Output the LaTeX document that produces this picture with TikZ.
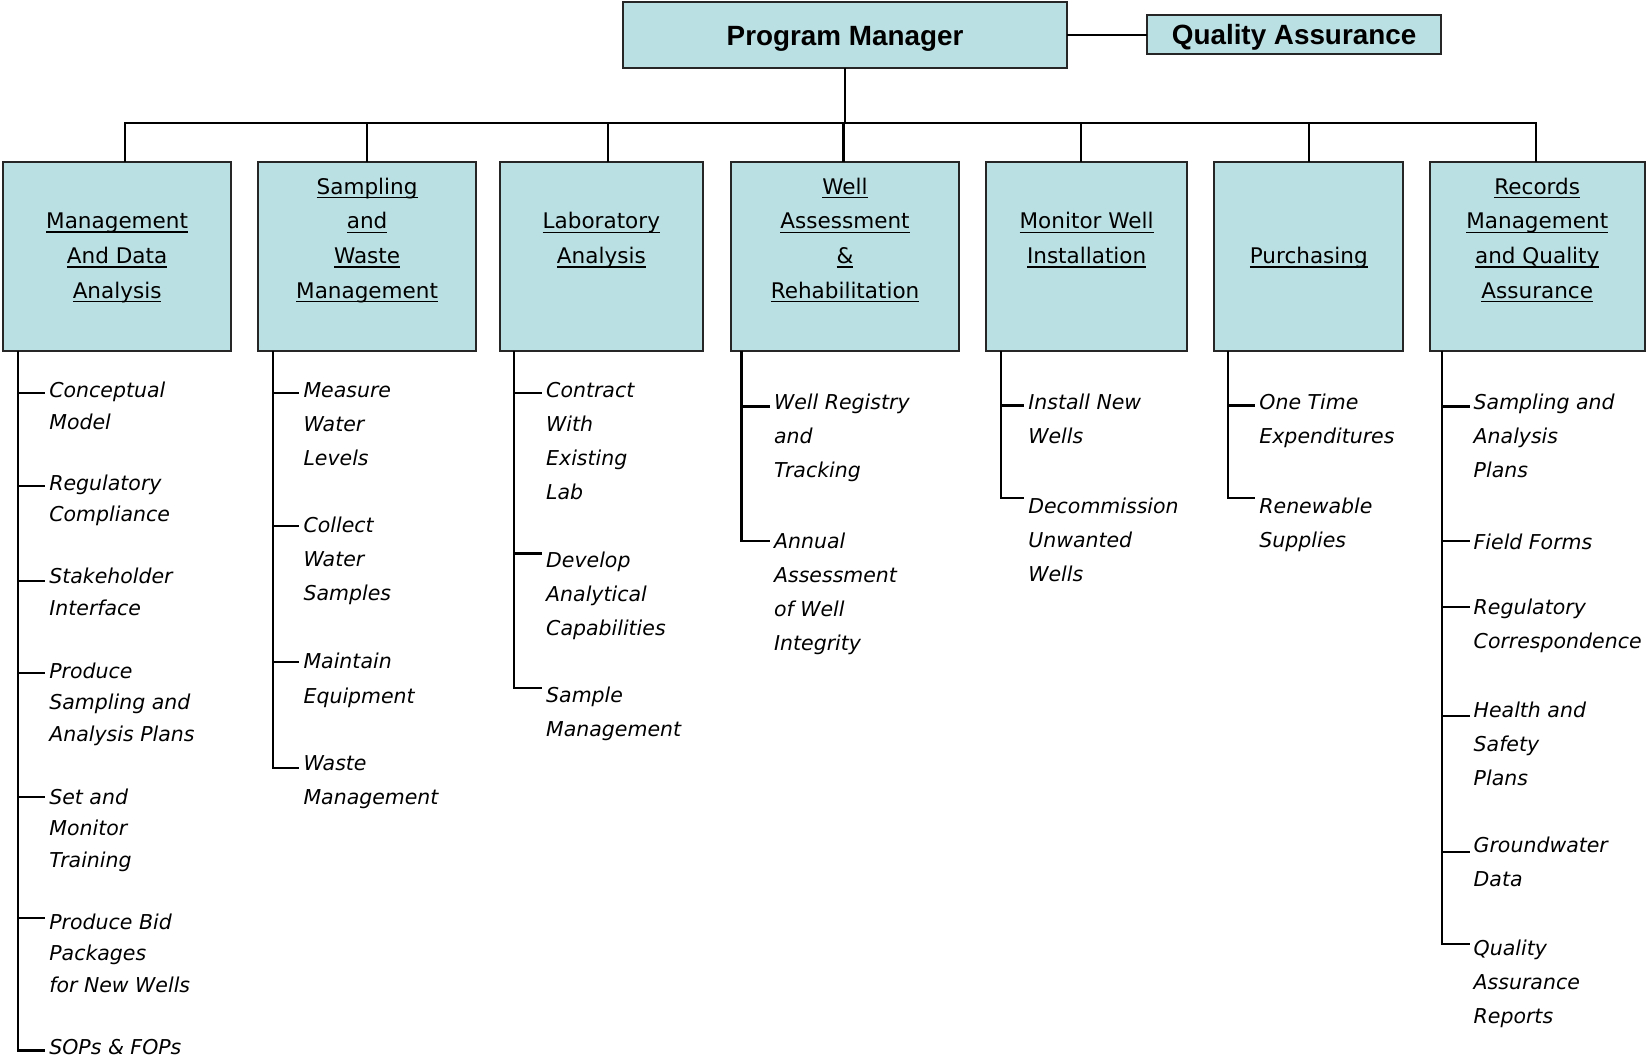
\documentclass[tikz,border=0pt]{standalone}
\usepackage{fontspec}
\setmainfont{DejaVu Sans}
\newfontfamily\titlefam{Liberation Sans}
\definecolor{boxfill}{RGB}{187,224,227}
\newcommand\myul[1]{\setbox0\hbox{#1}\rlap{\rule[-3.8pt]{\wd0}{1.4pt}}\box0}
\newcommand\bstrut{\rule[-4pt]{0pt}{22pt}}
\newcommand\lstrut{\rule[-6pt]{0pt}{22pt}}
% #1 style, #2 vertical coordinate, #3 node name, #4 text x, #5 tick y, #6 first line y, #7 text
\newcommand\leafitem[7][leaf]{%
  \node[#1] (#3) at (#4-4, #6-9) {#7};
  \pgfmathsetmacro\tdy{#6-#5-9}
  \coordinate (#3t) at ([yshift=\tdy pt]#3.north west);
  \draw[conn] (#2 |- #3t) -- (#3t);
}
\begin{document}
\begin{tikzpicture}[x=1pt,y=-1pt,
  conn/.style={line width=2.1pt, black},
  box/.style={draw=black!85, line width=2pt, fill=boxfill, inner sep=0pt, outer sep=0pt,
    align=center, font=\fontsize{20.5}{33}\selectfont},
  topbox/.style={draw=black!85, line width=2pt, fill=boxfill, inner sep=0pt, outer sep=0pt,
    text height=19pt, text depth=0pt,
    font=\titlefam\bfseries\fontsize{26.5}{30}\selectfont},
  leaf/.style={anchor=north west, inner xsep=4pt, inner ysep=0pt, outer sep=0pt, align=left,
    font=\fontsize{19.5}{32.5}\selectfont\itshape, execute at begin node=\lstrut},
  leafA/.style={leaf, font=\fontsize{19.5}{30}\selectfont\itshape}]

\fill[white] (0,0) rectangle (1568,1007);
\useasboundingbox (0,0) rectangle (1568,1007);

% top level
\node[topbox, minimum width=423pt, minimum height=63pt] (pm) at (804.5,33.5) {Program Manager};
\node[topbox, minimum width=280pt, minimum height=37pt] (qa) at (1232,32.5) {Quality Assurance};
\draw[conn] (pm.east) -- (pm.east -| qa.west);

% second level boxes
\node[box, minimum width=217pt, minimum height=180pt] (b1) at (111.5,244)
  {\bstrut\myul{Management}\\\bstrut\myul{And Data}\\\bstrut\myul{Analysis}};
\node[box, minimum width=207pt, minimum height=180pt] (b2) at (349.5,244)
  {\bstrut\myul{Sampling}\\\bstrut\myul{and}\\\bstrut\myul{Waste}\\\bstrut\myul{Management}\\\bstrut};
\node[box, minimum width=193pt, minimum height=180pt] (b3) at (572.5,244)
  {\bstrut\myul{Laboratory}\\\bstrut\myul{Analysis}\\\bstrut};
\node[box, minimum width=217pt, minimum height=180pt] (b4) at (804.5,244)
  {\bstrut\myul{Well}\\\bstrut\myul{Assessment}\\\bstrut\myul{\&}\\\bstrut\myul{Rehabilitation}\\\bstrut};
\node[box, minimum width=191pt, minimum height=180pt] (b5) at (1034.5,244)
  {\bstrut\myul{Monitor Well}\\\bstrut\myul{Installation}\\\bstrut};
\node[box, minimum width=180pt, minimum height=180pt] (b6) at (1246,244)
  {\bstrut\myul{Purchasing}};
\node[box, minimum width=205pt, minimum height=180pt] (b7) at (1463.5,244)
  {\bstrut\myul{Records}\\\bstrut\myul{Management}\\\bstrut\myul{and Quality}\\\bstrut\myul{Assurance}\\\bstrut};

% bus
\coordinate (bus) at (0,117);
\coordinate (t1) at ([xshift=7.5pt]b1.north);
\coordinate (t2) at (b2.north);
\coordinate (t3) at ([xshift=6.5pt]b3.north);
\coordinate (t4) at ([xshift=-1.5pt]b4.north);
\coordinate (t5) at ([xshift=-5.5pt]b5.north);
\coordinate (t6) at (b6.north);
\coordinate (t7) at ([xshift=-1.5pt]b7.north);
\draw[conn] (pm.south) -- (pm.south |- bus);
\draw[conn] (t1) -- (t1 |- bus) -- (t7 |- bus) -- (t7);
\foreach \t in {t2,t3,t4,t5,t6} \draw[conn] (\t |- bus) -- (\t);

% vertical spines
\coordinate (v1) at ([xshift=14pt]b1.south west);
\coordinate (v2) at ([xshift=14pt]b2.south west);
\coordinate (v3) at ([xshift=13pt]b3.south west);
\coordinate (v4) at ([xshift=10pt]b4.south west);
\coordinate (v5) at ([xshift=14pt]b5.south west);
\coordinate (v6) at ([xshift=13pt]b6.south west);
\coordinate (v7) at ([xshift=12pt]b7.south west);

% column 1
\leafitem[leafA]{v1}{c1a}{47}{374}{373}{Conceptual\\Model}
\leafitem[leafA]{v1}{c1b}{47}{463}{461}{Regulatory\\Compliance}
\leafitem[leafA]{v1}{c1c}{47}{553}{550}{Stakeholder\\Interface}
\leafitem[leafA]{v1}{c1d}{47}{641}{640}{Produce\\Sampling and\\Analysis Plans}
\leafitem[leafA]{v1}{c1e}{47}{759}{760}{Set and\\Monitor\\Training}
\leafitem[leafA]{v1}{c1f}{47}{874}{879}{Produce Bid\\Packages\\for New Wells}
\leafitem[leafA]{v1}{c1g}{47}{1000}{997}{SOPs \& FOPs}
\draw[conn] (v1) |- (c1gt);

% column 2
\leafitem{v2}{c2a}{289}{374}{373}{Measure\\Water\\Levels}
\leafitem{v2}{c2b}{289}{501}{501}{Collect\\Water\\Samples}
\leafitem{v2}{c2c}{289}{630}{631}{Maintain\\Equipment}
\leafitem{v2}{c2d}{289}{731}{728}{Waste\\Management}
\draw[conn] (v2) |- (c2dt);

% column 3
\leafitem{v3}{c3a}{520}{374}{373}{Contract\\With\\Existing\\Lab}
\leafitem{v3}{c3b}{520}{527}{534}{Develop\\Analytical\\Capabilities}
\leafitem{v3}{c3c}{520}{655}{663}{Sample\\Management}
\draw[conn] (v3) |- (c3ct);

% column 4
\leafitem{v4}{c4a}{737}{387}{384}{Well Registry\\and\\Tracking}
\leafitem{v4}{c4b}{737}{515}{516}{Annual\\Assessment\\of Well\\Integrity}
\draw[conn] (v4) |- (c4bt);

% column 5
\leafitem{v5}{c5a}{979}{386}{384}{Install New\\Wells}
\leafitem{v5}{c5b}{979}{474}{483}{Decommission\\Unwanted\\Wells}
\draw[conn] (v5) |- (c5bt);

% column 6
\leafitem{v6}{c6a}{1199}{386}{384}{One Time\\Expenditures}
\leafitem{v6}{c6b}{1199}{474}{483}{Renewable\\Supplies}
\draw[conn] (v6) |- (c6bt);

% column 7
\leafitem{v7}{c7a}{1403}{387}{384}{Sampling and\\Analysis\\Plans}
\leafitem{v7}{c7b}{1403}{515}{516}{Field Forms}
\leafitem{v7}{c7c}{1403}{578}{579}{Regulatory\\Correspondence}
\leafitem{v7}{c7d}{1403}{682}{677}{Health and\\Safety\\Plans}
\leafitem{v7}{c7e}{1403}{811}{806}{Groundwater\\Data}
\leafitem{v7}{c7f}{1403}{899}{904}{Quality\\Assurance\\Reports}
\draw[conn] (v7) |- (c7ft);
\end{tikzpicture}
\end{document}
